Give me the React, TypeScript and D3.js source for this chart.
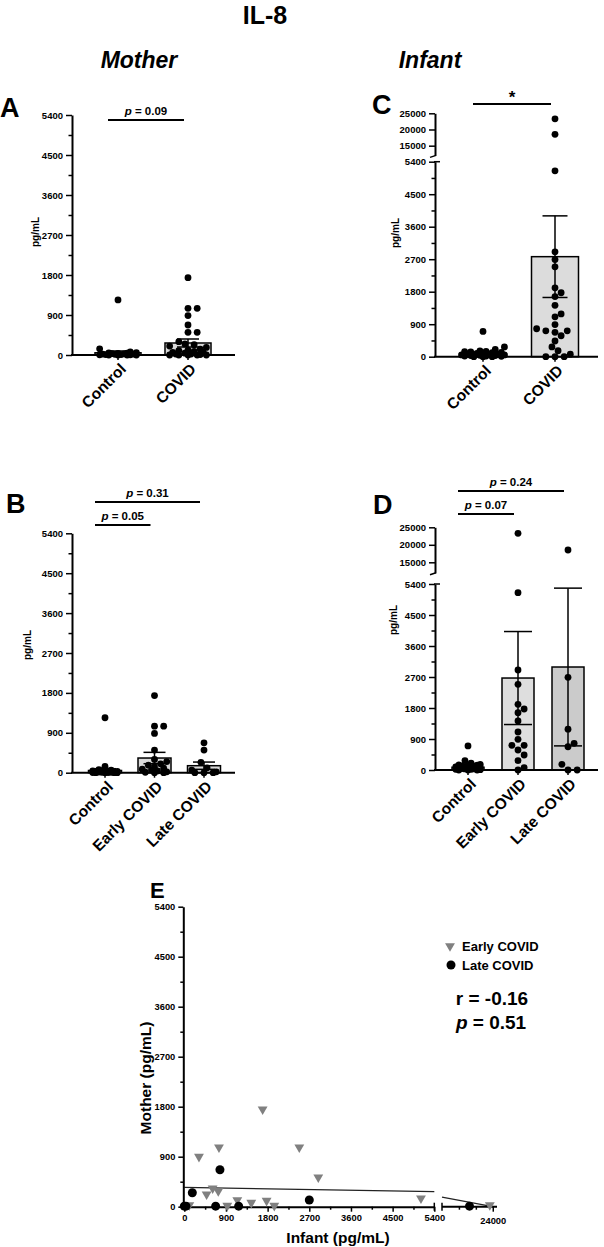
import React, { useEffect, useRef } from "react";
import * as d3 from "d3";

// IL-8, pg/mL
const motherControl = [1240, 140, 70, 55, 45, 40, 35, 30, 25, 20, 20, 15, 10, 10, 5, 5, 0, 0, 0, 0];
const motherEarly = [1740, 1050, 1050, 886, 510, 300, 250, 200, 170, 130, 100, 80, 60, 40, 20, 10, 0, 0];
const motherLate = [675, 510, 233, 110, 60, 20, 0, 0, 0];
const motherCovid = [...motherEarly, ...motherLate];

const infantControl = [700, 270, 200, 160, 150, 140, 130, 120, 110, 100, 90, 80, 70, 60, 50, 50, 40, 30, 30, 20, 20, 10, 0, 0, 0];
const infantEarly = [23290, 5147, 2903, 2488, 1907, 1771, 1664, 1423, 1103, 891, 717, 717, 580, 435, 270, 70, 0];
const infantLate = [18514, 2690, 1185, 774, 675, 165, 0, 0];
const infantCovid = [...infantEarly, ...infantLate];

// bar heights (mean) and error bars (SEM)
const meanA = [50, 270];
const semA = [40, 90];
const meanB = [50, 331, 158];
const semB = [40, 128, 82];
const meanC = [80, 2770];
const semC = [35, 1130];
const meanD = [80, 2670, 2990];
const semD = [35, 1350, 2290];

const twoGroups = ["Control", "COVID"];
const threeGroups = ["Control", "Early COVID", "Late COVID"];

// panel E: mother vs infant
const earlyInfant = [317, 749, 1692, 2484, 2894, 482, 612, 734, 929, 1145, 1447, 1778, 1944, 5112, 23300, 108];
const earlyMother = [900, 1068, 1752, 1068, 528, 222, 330, 282, 18, 120, 72, 108, 18, 150, 30, 30];
const lateInfant = [0, 36, 173, 677, 770, 1174, 2700, 18500];
const lateMother = [10, 10, 252, 10, 666, 10, 120, 10];
const fitIntercept = 349;
const fitSlope = -0.0146;

const lowTicks = d3.range(0, 5401, 900);
const lowMinor = d3.range(450, 5400, 900);
const upTicks = [15000, 20000, 25000];

const FONT = "'Liberation Sans', Arial, Helvetica, sans-serif";

type Sig = { from: number; to: number; text: string; y: number };
type Panel = {
  letter: string;
  letterX: number;
  letterY: number;
  axisX: number;
  axisEnd: number;
  y0: number;
  yTop: number;
  upper?: [number, number];
  cats: string[];
  c0: number;
  c1: number;
  barW: number;
  capW: number;
  groups: number[][];
  means: number[];
  sems: number[];
  fills: string[];
  sigs: Sig[];
  ylabX: number;
  ylabY: number;
};

function swarm(vals: number[], yv: (v: number) => number, r: number, maxHalf: number) {
  const pts = vals.map((v) => ({ v, y: yv(v), dx: 0 }));
  const order = pts.slice().sort((a, b) => b.y - a.y);
  const placed: { y: number; dx: number }[] = [];
  const step = r * 0.9;
  const cands = [0];
  for (let k = 1; k * step <= maxHalf; k++) cands.push(k * step, -k * step);
  const minD = 2 * r * 0.95;
  for (const p of order) {
    let best = 0;
    let bestScore = -Infinity;
    for (const c of cands) {
      let md = Infinity;
      for (const q of placed) md = Math.min(md, Math.hypot(c - q.dx, p.y - q.y));
      if (md >= minD) {
        best = c;
        break;
      }
      if (md > bestScore) {
        bestScore = md;
        best = c;
      }
    }
    p.dx = best;
    placed.push(p);
  }
  return pts;
}

function styleAxis(ax: any, size = 9.5) {
  ax.selectAll("path").attr("stroke", "#000").attr("stroke-width", 2);
  ax.selectAll("line").attr("stroke", "#000").attr("stroke-width", 1.5);
  ax.selectAll("text").attr("fill", "#000").attr("font-weight", "bold").attr("font-size", size).attr("font-family", FONT);
  ax.attr("font-family", FONT);
}

function sigText(sel: any, text: string) {
  if (text.startsWith("p")) {
    sel.append("tspan").attr("font-style", "italic").text("p");
    sel.append("tspan").text(text.slice(1));
  } else sel.text(text);
}

function drawPanel(svg: any, p: Panel) {
  const g = svg.append("g");
  const yLow = d3.scaleLinear().domain([0, 5400]).range([p.y0, p.yTop]);
  const yUp = p.upper ? d3.scaleLinear().domain([12000, 25000]).range(p.upper) : null;
  const yv = (v: number) => (v > 5400 && yUp ? yUp(v) : yLow(v));
  const x = d3.scalePoint<string>().domain(p.cats).range([p.c0, p.c1]);

  // bars
  p.cats.forEach((c, i) => {
    const top = yLow(p.means[i]);
    g.append("rect")
      .attr("x", x(c)! - p.barW / 2)
      .attr("y", top)
      .attr("width", p.barW)
      .attr("height", p.y0 - top)
      .attr("fill", p.fills[i])
      .attr("stroke", "#000")
      .attr("stroke-width", 1.5);
  });

  // error bars
  p.cats.forEach((c, i) => {
    const cx = x(c)!;
    const hi = yLow(p.means[i] + p.sems[i]);
    const lo = yLow(Math.max(0, p.means[i] - p.sems[i]));
    g.append("line").attr("x1", cx).attr("x2", cx).attr("y1", hi).attr("y2", lo).attr("stroke", "#000").attr("stroke-width", 1.5);
    [hi, lo].forEach((yy) =>
      g.append("line").attr("x1", cx - p.capW / 2).attr("x2", cx + p.capW / 2).attr("y1", yy).attr("y2", yy).attr("stroke", "#000").attr("stroke-width", 1.5)
    );
  });

  // dots
  p.cats.forEach((c, i) => {
    const pts = swarm(p.groups[i], yv, 3.4, p.barW / 2 - 2);
    g.selectAll(null)
      .data(pts)
      .enter()
      .append("circle")
      .attr("cx", (d: any) => x(c)! + d.dx)
      .attr("cy", (d: any) => d.y)
      .attr("r", 3.4)
      .attr("fill", "#000");
  });

  // y axis (lower segment)
  const axL = g
    .append("g")
    .attr("transform", `translate(${p.axisX},0)`)
    .call(d3.axisLeft(yLow).tickValues(lowTicks).tickSize(6).tickSizeOuter(0).tickFormat(d3.format("d")));
  styleAxis(axL);
  const axM = g
    .append("g")
    .attr("transform", `translate(${p.axisX},0)`)
    .call(d3.axisLeft(yLow).tickValues(lowMinor).tickSize(3.5).tickFormat(() => ""));
  axM.select(".domain").remove();
  styleAxis(axM);

  if (yUp) {
    const axU = g
      .append("g")
      .attr("transform", `translate(${p.axisX},0)`)
      .call(d3.axisLeft(yUp).tickValues(upTicks).tickSize(6).tickSizeOuter(0).tickFormat(d3.format("d")));
    styleAxis(axU);
    // break marks
    const yb = yUp(12000);
    g.append("line").attr("x1", p.axisX + 1).attr("x2", p.axisX - 5).attr("y1", yb).attr("y2", yb + 2).attr("stroke", "#000").attr("stroke-width", 1.5);
    g.append("line").attr("x1", p.axisX - 1).attr("x2", p.axisX + 5).attr("y1", p.yTop).attr("y2", p.yTop).attr("stroke", "#000").attr("stroke-width", 1.5);
  }

  // x axis
  g.append("line").attr("x1", p.axisX - 1).attr("x2", p.axisEnd).attr("y1", p.y0).attr("y2", p.y0).attr("stroke", "#000").attr("stroke-width", 2);
  p.cats.forEach((c) => {
    g.append("line").attr("x1", x(c)!).attr("x2", x(c)!).attr("y1", p.y0).attr("y2", p.y0 + 5).attr("stroke", "#000").attr("stroke-width", 1.5);
    g.append("text")
      .attr("transform", `translate(${x(c)! + 9},${p.y0 + 15}) rotate(-45)`)
      .attr("text-anchor", "end")
      .attr("font-family", FONT)
      .attr("font-weight", "bold")
      .attr("font-size", 15.5)
      .text(c);
  });

  // y label
  g.append("text")
    .attr("transform", `translate(${p.ylabX},${p.ylabY}) rotate(-90)`)
    .attr("text-anchor", "middle")
    .attr("dominant-baseline", "central")
    .attr("font-family", FONT)
    .attr("font-weight", "bold")
    .attr("font-size", 10)
    .text("pg/mL");

  // significance bars
  p.sigs.forEach((s) => {
    const x0 = x(p.cats[s.from])! - 10;
    const x1 = x(p.cats[s.to])! - 4;
    g.append("line").attr("x1", x0).attr("x2", x1).attr("y1", s.y).attr("y2", s.y).attr("stroke", "#000").attr("stroke-width", 2.2);
    const t = g
      .append("text")
      .attr("x", (x0 + x1) / 2)
      .attr("y", s.text === "*" ? s.y - 1 : s.y - 5)
      .attr("text-anchor", "middle")
      .attr("font-family", FONT)
      .attr("font-weight", "bold")
      .attr("font-size", s.text === "*" ? 17 : 11.5);
    sigText(t, s.text);
  });

  // panel letter
  svg.append("text").attr("x", p.letterX).attr("y", p.letterY).attr("font-family", FONT).attr("font-weight", "bold").attr("font-size", 27).text(p.letter);
}

const panels: Panel[] = [
  {
    letter: "A", letterX: 0, letterY: 117, axisX: 72, axisEnd: 235, y0: 355, yTop: 115,
    cats: twoGroups, c0: 118, c1: 188, barW: 46, capW: 22,
    groups: [motherControl, motherCovid], means: meanA, sems: semA, fills: ["#d9d9d9", "#d9d9d9"],
    sigs: [{ from: 0, to: 1, text: "p = 0.09", y: 120 }], ylabX: 35, ylabY: 232,
  },
  {
    letter: "B", letterX: 6, letterY: 513, axisX: 72, axisEnd: 235, y0: 772.7, yTop: 533.3,
    cats: threeGroups, c0: 105, c1: 204, barW: 33, capW: 22,
    groups: [motherControl, motherEarly, motherLate], means: meanB, sems: semB, fills: ["#d9d9d9", "#d9d9d9", "#d9d9d9"],
    sigs: [
      { from: 0, to: 2, text: "p = 0.31", y: 502 },
      { from: 0, to: 1, text: "p = 0.05", y: 525 },
    ],
    ylabX: 27, ylabY: 645,
  },
  {
    letter: "C", letterX: 372, letterY: 114, axisX: 435, axisEnd: 598, y0: 356.7, yTop: 161.7, upper: [155.4, 113.3],
    cats: twoGroups, c0: 483, c1: 555, barW: 47, capW: 25,
    groups: [infantControl, infantCovid], means: meanC, sems: semC, fills: ["#dcdcdc", "#dcdcdc"],
    sigs: [{ from: 0, to: 1, text: "*", y: 104 }], ylabX: 395, ylabY: 233,
  },
  {
    letter: "D", letterX: 373, letterY: 514, axisX: 435, axisEnd: 598, y0: 770, yTop: 584, upper: [572.8, 527.3],
    cats: threeGroups, c0: 468, c1: 568, barW: 32, capW: 28,
    groups: [infantControl, infantEarly, infantLate], means: meanD, sems: semD, fills: ["#dedede", "#dedede", "#cbcbcb"],
    sigs: [
      { from: 0, to: 2, text: "p = 0.24", y: 491 },
      { from: 0, to: 1, text: "p = 0.07", y: 514 },
    ],
    ylabX: 393, ylabY: 620,
  },
];

function drawScatter(svg: any) {
  const g = svg.append("g");
  const y = d3.scaleLinear().domain([0, 5400]).range([1206.7, 906.7]);
  const xL = d3.scaleLinear().domain([0, 5400]).range([184.3, 434.3]);
  const xR = d3.scaleLinear().domain([12000, 25000]).range([442, 497]);
  const xv = (v: number) => (v > 5400 ? xR(v) : xL(v));
  const y0 = y(0);

  // regression line (two segments)
  const fit = (v: number) => Math.max(0, fitIntercept + fitSlope * v);
  const line = d3.line<number>().x(xv).y((v) => y(fit(v)));
  g.append("path").attr("d", line([0, 5400])).attr("fill", "none").attr("stroke", "#222").attr("stroke-width", 1.2);
  g.append("path").attr("d", line([12000, 24000])).attr("fill", "none").attr("stroke", "#222").attr("stroke-width", 1.2);

  // y axis
  const ay = g.append("g").attr("transform", "translate(183.3,0)")
    .call(d3.axisLeft(y).tickValues(lowTicks).tickSize(5).tickSizeOuter(0).tickFormat(d3.format("d")));
  styleAxis(ay, 9.3);
  const aym = g.append("g").attr("transform", "translate(183.3,0)")
    .call(d3.axisLeft(y).tickValues(lowMinor).tickSize(3).tickFormat(() => ""));
  aym.select(".domain").remove();
  styleAxis(aym);

  // x axis, first segment
  const ax = g.append("g").attr("transform", `translate(0,${y0})`)
    .call(d3.axisBottom(xL).tickValues(lowTicks).tickSize(5).tickSizeOuter(0).tickFormat(d3.format("d")));
  styleAxis(ax, 9.3);
  const axm = g.append("g").attr("transform", `translate(0,${y0})`)
    .call(d3.axisBottom(xL).tickValues(lowMinor).tickSize(3).tickFormat(() => ""));
  axm.select(".domain").remove();
  styleAxis(axm);
  // second segment
  const ax2 = g.append("g").attr("transform", `translate(0,${y0})`)
    .call(d3.axisBottom(xR).tickValues([24000]).tickSize(5).tickSizeOuter(0).tickFormat(d3.format("d")));
  ax2.select(".domain").attr("d", `M${xR(12000)},0H${xR(25000)}`);
  styleAxis(ax2, 9.3);
  ax2.selectAll("text").attr("dy", "1.0em");
  const ax2m = g.append("g").attr("transform", `translate(0,${y0})`)
    .call(d3.axisBottom(xR).tickValues([16000, 20000]).tickSize(3).tickFormat(() => ""));
  ax2m.select(".domain").remove();
  styleAxis(ax2m);
  [xL(5400), xR(12000)].forEach((xx) =>
    g.append("line").attr("x1", xx).attr("x2", xx).attr("y1", y0 - 4).attr("y2", y0 + 4).attr("stroke", "#000").attr("stroke-width", 1.5)
  );

  // points
  const tri = d3.symbol().type(d3.symbolTriangle).size(42);
  earlyInfant.forEach((v, i) => {
    g.append("path")
      .attr("d", tri())
      .attr("transform", `translate(${xv(v)},${y(earlyMother[i])}) rotate(180)`)
      .attr("fill", "#808080");
  });
  lateInfant.forEach((v, i) => {
    g.append("circle").attr("cx", xv(v)).attr("cy", y(lateMother[i])).attr("r", 4.5).attr("fill", "#000");
  });

  // legend
  g.append("path").attr("d", tri()).attr("transform", "translate(450,946) rotate(180)").attr("fill", "#808080");
  g.append("circle").attr("cx", 451).attr("cy", 965).attr("r", 4.5).attr("fill", "#000");
  [["Early COVID", 946], ["Late COVID", 965]].forEach(([t, yy]) =>
    g.append("text").attr("x", 462).attr("y", yy as number).attr("dominant-baseline", "central")
      .attr("font-family", FONT).attr("font-weight", "bold").attr("font-size", 13).text(t as string)
  );
  g.append("text").attr("x", 492).attr("y", 1005).attr("text-anchor", "middle").attr("font-family", FONT)
    .attr("font-weight", "bold").attr("font-size", 19).text("r = -0.16");
  const pt = g.append("text").attr("x", 491).attr("y", 1029).attr("text-anchor", "middle").attr("font-family", FONT)
    .attr("font-weight", "bold").attr("font-size", 19);
  sigText(pt, "p = 0.51");

  // axis titles
  g.append("text").attr("x", 338).attr("y", 1243).attr("text-anchor", "middle").attr("font-family", FONT)
    .attr("font-weight", "bold").attr("font-size", 15.5).text("Infant (pg/mL)");
  g.append("text").attr("transform", "translate(145,1078) rotate(-90)").attr("text-anchor", "middle")
    .attr("dominant-baseline", "central").attr("font-family", FONT).attr("font-weight", "bold")
    .attr("font-size", 15.5).text("Mother (pg/mL)");

  svg.append("text").attr("x", 150).attr("y", 898).attr("font-family", FONT).attr("font-weight", "bold")
    .attr("font-size", 22).text("E");
}

const App = () => {
  const ref = useRef<HTMLDivElement>(null);

  useEffect(() => {
    const svg = d3
      .select(ref.current)
      .html("")
      .append("svg")
      .attr("width", 604)
      .attr("height", 1247)
      .style("position", "absolute")
      .style("left", "0px")
      .style("top", "0px")
      .style("background", "#fff")
      .attr("font-family", FONT);

    svg.append("text").attr("x", 265).attr("y", 24).attr("text-anchor", "middle").attr("font-weight", "bold")
      .attr("font-size", 25).text("IL-8");
    svg.append("text").attr("x", 139).attr("y", 68).attr("text-anchor", "middle").attr("font-weight", "bold")
      .attr("font-style", "italic").attr("font-size", 23).text("Mother");
    svg.append("text").attr("x", 430).attr("y", 68).attr("text-anchor", "middle").attr("font-weight", "bold")
      .attr("font-style", "italic").attr("font-size", 23).text("Infant");

    panels.forEach((p) => drawPanel(svg, p));
    drawScatter(svg);
  }, []);

  return <div ref={ref} />;
};

export default App;
